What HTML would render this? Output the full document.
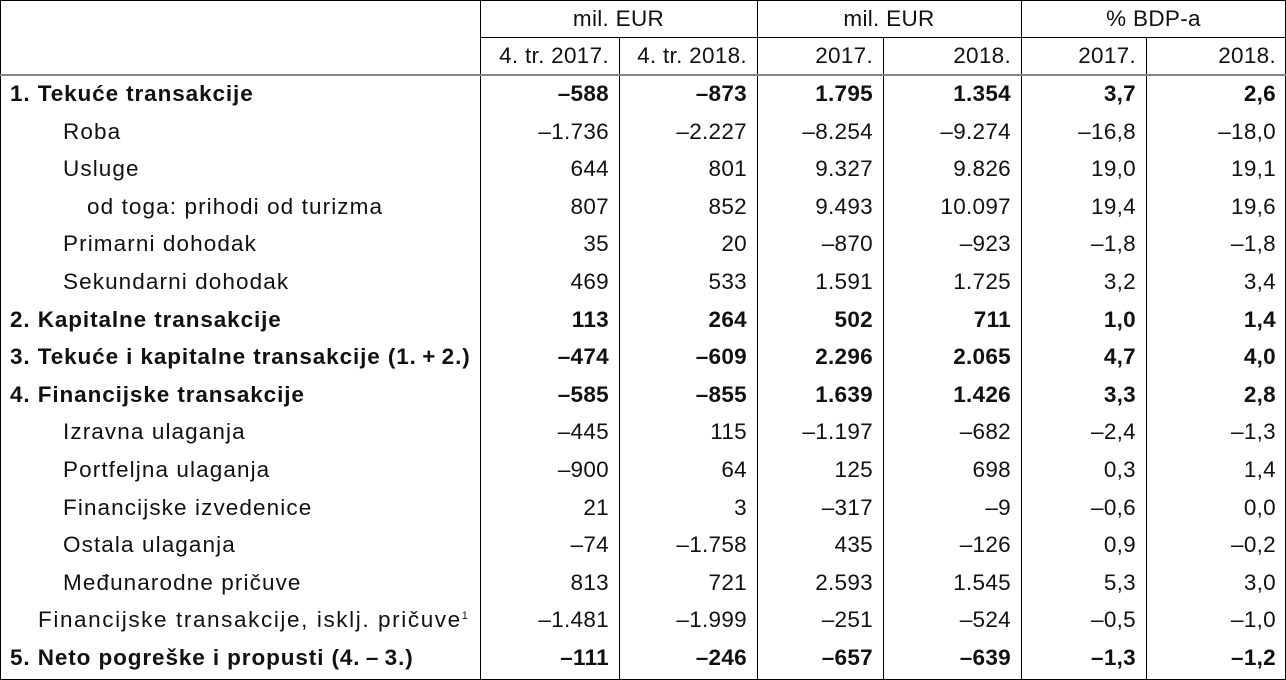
<!DOCTYPE html><html><head><meta charset="utf-8"><style>
body{margin:0;width:1286px;height:680px;background:#fff;font-family:"Liberation Sans",Arial,sans-serif;font-size:22.5px;letter-spacing:0.3px;color:#111;position:relative;overflow:hidden}
.l{position:absolute;background:#000}
.t{position:absolute;white-space:nowrap;line-height:38px;height:38px}
.lab{letter-spacing:1.1px}
.lab.b{letter-spacing:0.9px}
.r{text-align:right}
.b{font-weight:bold}
sup{font-size:11px;line-height:0;vertical-align:8px}
</style></head><body>
<div class="l" style="left:0;top:0;width:1286px;height:1px"></div>
<div class="l" style="left:0;top:679px;width:1286px;height:1px"></div>
<div class="l" style="left:0;top:0;width:1px;height:680px"></div>
<div class="l" style="left:1285px;top:0;width:1px;height:680px"></div>
<div class="l" style="left:480px;top:0;width:1px;height:680px"></div>
<div class="l" style="left:757px;top:0;width:1px;height:680px"></div>
<div class="l" style="left:1021px;top:0;width:1px;height:680px"></div>
<div class="l" style="left:619px;top:37px;width:1px;height:643px"></div>
<div class="l" style="left:883px;top:37px;width:1px;height:643px"></div>
<div class="l" style="left:1146px;top:37px;width:1px;height:643px"></div>
<div class="l" style="left:480px;top:37px;width:806px;height:1px"></div>
<div class="l" style="left:0;top:74px;width:1286px;height:2px;background:#888"></div>
<div class="t" style="left:480px;width:277px;top:0;text-align:center">mil. EUR</div>
<div class="t" style="left:757px;width:264px;top:0;text-align:center">mil. EUR</div>
<div class="t" style="left:1021px;width:265px;top:0;text-align:center">% BDP-a</div>
<div id="c"></div>
<script>
var ed=[480,619,757,883,1021,1146,1286];
var hdr=["4. tr. 2017.","4. tr. 2018.","2017.","2018.","2017.","2018."];
var rows=[
["1. Tekuće transakcije",10,1,"–588","–873","1.795","1.354","3,7","2,6"],
["Roba",63,0,"–1.736","–2.227","–8.254","–9.274","–16,8","–18,0"],
["Usluge",63,0,"644","801","9.327","9.826","19,0","19,1"],
["od toga: prihodi od turizma",87,0,"807","852","9.493","10.097","19,4","19,6"],
["Primarni dohodak",63,0,"35","20","–870","–923","–1,8","–1,8"],
["Sekundarni dohodak",63,0,"469","533","1.591","1.725","3,2","3,4"],
["2. Kapitalne transakcije",10,1,"113","264","502","711","1,0","1,4"],
["3. Tekuće i kapitalne transakcije (1.&thinsp;+&thinsp;2.)",10,1,"–474","–609","2.296","2.065","4,7","4,0"],
["4. Financijske transakcije",10,1,"–585","–855","1.639","1.426","3,3","2,8"],
["Izravna ulaganja",63,0,"–445","115","–1.197","–682","–2,4","–1,3"],
["Portfeljna ulaganja",63,0,"–900","64","125","698","0,3","1,4"],
["Financijske izvedenice",63,0,"21","3","–317","–9","–0,6","0,0"],
["Ostala ulaganja",63,0,"–74","–1.758","435","–126","0,9","–0,2"],
["Međunarodne pričuve",63,0,"813","721","2.593","1.545","5,3","3,0"],
["<span style='letter-spacing:1.6px'>Financijske transakcije, isklj. pričuve</span><sup>1</sup>",38,0,"–1.481","–1.999","–251","–524","–0,5","–1,0"],
["5. Neto pogreške i propusti (4.&thinsp;–&thinsp;3.)",10,1,"–111","–246","–657","–639","–1,3","–1,2"]];
var h="";
for(var i=0;i<6;i++)h+='<div class="t r" style="left:'+ed[i]+'px;width:'+(ed[i+1]-ed[i]-10)+'px;top:37px">'+hdr[i]+'</div>';
rows.forEach(function(r,k){var y=75+k*37.6;var b=r[2]?" b":"";
h+='<div class="t lab'+b+'" style="left:'+r[1]+'px;top:'+y+'px">'+r[0]+'</div>';
for(var i=0;i<6;i++)h+='<div class="t r'+b+'" style="left:'+ed[i]+'px;width:'+(ed[i+1]-ed[i]-10)+'px;top:'+y+'px">'+r[3+i]+'</div>';});
document.getElementById("c").innerHTML=h;
</script>
</body></html>
